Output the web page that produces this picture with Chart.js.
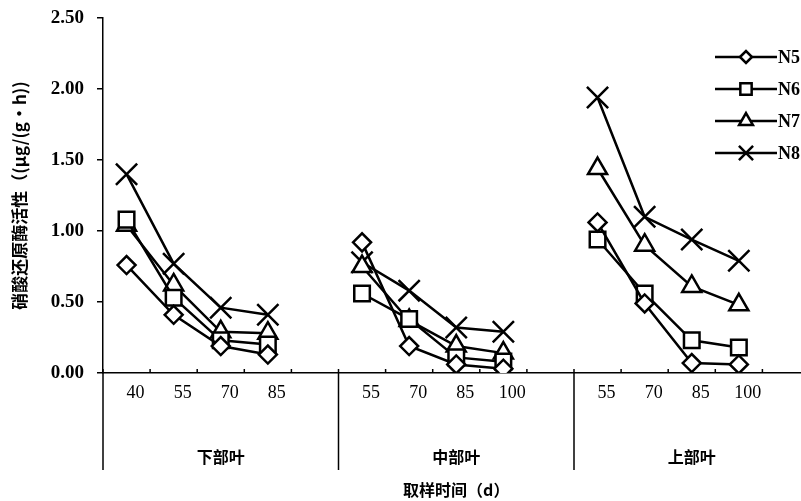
<!DOCTYPE html>
<html>
<head>
<meta charset="utf-8">
<script src="https://cdn.jsdelivr.net/npm/chart.js@4"></script>
<style>
  body { margin: 0; overflow: hidden; background: #fff; }
</style>
</head>
<body>
<canvas id="grafico" width="827" height="501"></canvas>
<script>
// 15 slots: 4 per group + one blank slot after each group
var rotulos = ["40", "55", "70", "85", "", "55", "70", "85", "100", "", "55", "70", "85", "100", ""];
var grupos = ["下部叶", "中部叶", "上部叶"];
var series = ["N5", "N6", "N7", "N8"];

var dadosN5 = [0.76, 0.41, 0.19, 0.13, null, 0.92, 0.19, 0.06, 0.03, null, 1.06, 0.49, 0.07, 0.06, null];
var dadosN6 = [1.08, 0.53, 0.23, 0.20, null, 0.56, 0.38, 0.11, 0.08, null, 0.94, 0.56, 0.23, 0.18, null];
var dadosN7 = [1.04, 0.62, 0.29, 0.28, null, 0.75, 0.37, 0.19, 0.14, null, 1.44, 0.90, 0.61, 0.48, null];
var dadosN8 = [1.40, 0.77, 0.46, 0.41, null, 0.78, 0.58, 0.32, 0.29, null, 1.94, 1.10, 0.94, 0.79, null];

var estilos = ["rectRot", "rect", "triangle", "crossRot"];
var raios = [9, 11, 11, 15];
var raiosLegenda = [6, 8, 8, 10];

function serie(nome, dados, i) {
  return {
    label: nome,
    data: dados,
    borderColor: "#000",
    borderWidth: 2.5,
    backgroundColor: "#fff",
    pointStyle: estilos[i],
    pointRadius: raios[i],
    pointBorderWidth: 2.5,
    pointBorderColor: "#000",
    pointBackgroundColor: "#fff",
    spanGaps: false,
    tension: 0,
  };
}

// group dividers, x tick marks, group names, legend
var extras = {
  id: "extras",
  afterDraw: function (chart) {
    var ctx = chart.ctx;
    var x = chart.scales.x;
    var area = chart.chartArea;
    var passo = (x.right - x.left) / rotulos.length;
    ctx.save();
    ctx.strokeStyle = "#000";
    ctx.lineWidth = 1.5;
    // small tick marks pointing up
    for (var i = 0; i <= rotulos.length; i++) {
      var px = x.left + i * passo;
      ctx.beginPath();
      ctx.moveTo(px, area.bottom);
      ctx.lineTo(px, area.bottom - 4);
      ctx.stroke();
    }
    // dividers below the axis
    for (var g = 0; g < 3; g++) {
      var px2 = x.left + g * 5 * passo;
      ctx.beginPath();
      ctx.moveTo(px2, area.bottom);
      ctx.lineTo(px2, 470);
      ctx.stroke();
    }
    ctx.fillStyle = "#000";
    ctx.font = "bold 16px 'Noto Sans CJK SC'";
    ctx.textAlign = "center";
    ctx.textBaseline = "middle";
    for (var k = 0; k < grupos.length; k++) {
      var cx = x.left + (k * 5 + 2.5) * passo;
      ctx.fillText(grupos[k], cx, 457);
    }
    // legend
    var ys = [57, 89, 121, 153];
    ctx.font = "bold 18px 'Liberation Serif'";
    ctx.textAlign = "left";
    for (var s = 0; s < series.length; s++) {
      ctx.lineWidth = 2.5;
      ctx.beginPath();
      ctx.moveTo(715, ys[s]);
      ctx.lineTo(777, ys[s]);
      ctx.stroke();
      Chart.helpers.drawPoint(ctx, {
        pointStyle: estilos[s],
        radius: raiosLegenda[s],
        borderWidth: 2.5,
      }, 746, ys[s]);
      ctx.fillText(series[s], 778, ys[s] + 1);
    }
    ctx.restore();
  },
};

// wrap drawPoint so it fills white and strokes black
var _draw = Chart.helpers.drawPoint;
Chart.helpers.drawPoint = function (ctx, opts, px, py) {
  ctx.save();
  ctx.fillStyle = "#fff";
  ctx.strokeStyle = "#000";
  ctx.lineWidth = opts.borderWidth;
  _draw(ctx, opts, px, py);
  ctx.restore();
};

const config = {
  type: "line",
  data: {
    labels: rotulos,
    datasets: [
      serie("N5", dadosN5, 0),
      serie("N6", dadosN6, 1),
      serie("N7", dadosN7, 2),
      serie("N8", dadosN8, 3),
    ],
  },
  options: {
    responsive: false,
    animation: false,
    devicePixelRatio: 1,
    layout: { padding: { left: 3, right: 4, top: 18, bottom: 0 } },
    plugins: {
      legend: { display: false },
      tooltip: { enabled: false },
    },
    scales: {
      x: {
        type: "category",
        offset: true,
        afterFit: function (scale) { scale.height = 128; },
        grid: { display: true, drawOnChartArea: false, drawTicks: false, offset: true },
        border: { color: "#000", width: 1.5 },
        ticks: {
          color: "#000",
          autoSkip: false,
          maxRotation: 0,
          padding: 9,
          labelOffset: 9,
          font: { family: "'Liberation Serif'", size: 18 },
        },
        title: {
          display: true,
          text: "取样时间（d）",
          color: "#000",
          font: { family: "'Noto Sans CJK SC'", size: 16, weight: "bold" },
          padding: { top: 0, bottom: 1 },
        },
      },
      y: {
        min: 0,
        max: 2.5,
        afterFit: function (scale) {
          scale.width = 100;
          scale.paddingTop = 0;
        },
        grid: { drawOnChartArea: false, drawTicks: true, tickLength: 6, color: "#000", lineWidth: 1.5 },
        border: { color: "#000", width: 1.5 },
        ticks: {
          stepSize: 0.5,
          color: "#000",
          padding: 13,
          font: { family: "'Liberation Serif'", size: 19, weight: "bold" },
          callback: function (v) { return v.toFixed(2); },
        },
        title: {
          display: true,
          text: "硝酸还原酶活性（(μg/(g•h))",
          color: "#000",
          font: { family: "'Noto Sans CJK SC'", size: 17, weight: "bold" },
          padding: { top: 6, bottom: 0 },
        },
      },
    },
  },
  plugins: [extras],
};

new Chart(document.getElementById("grafico"), config);
</script>
</body>
</html>
